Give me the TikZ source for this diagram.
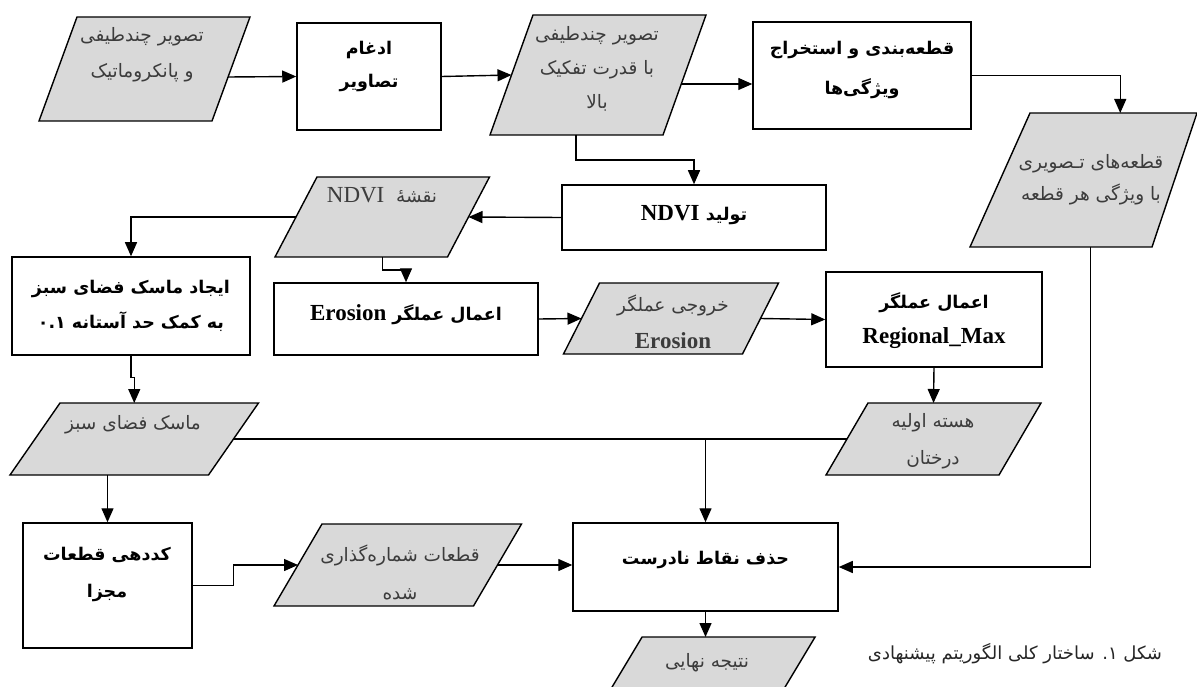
\documentclass[tikz,border=0pt]{standalone}
\usepackage{fontspec}
\usetikzlibrary{arrows.meta,backgrounds,calc}
\TeXXeTstate=1
\newfontfamily\fa[Script=Arabic]{DejaVu Sans}
\newfontfamily\lat{Liberation Serif}
\definecolor{pfill}{RGB}{217,217,217}
\definecolor{ptxt}{RGB}{60,60,60}
\newcommand\RL[1]{\beginR #1\endR}
\newcommand\latb[1]{{\lat\bfseries\fontsize{23}{24}\selectfont #1}}
\newcommand\pgram[7]{%
  \node[pshape, minimum width=#4, minimum height=#5] (#1) at (#2,#3) {};
  \begin{scope}[on background layer]
    \draw[para] ([xshift=#6]#1.north west) -- ([xshift=#7]#1.north east)
      -- ([xshift=-#7]#1.south east) -- ([xshift=-#6]#1.south west) -- cycle;
  \end{scope}}
\tikzset{
  box/.style={draw, line width=1.5pt, fill=white, inner sep=0pt},
  pshape/.style={inner sep=0pt, outer sep=0pt},
  para/.style={draw, line width=1.4pt, fill=pfill},
  ptext/.style={font=\fa\fontsize{18.5}{#1}\selectfont, text=ptxt, align=center, inner sep=0pt},
  ptext/.default=36,
  btext/.style={font=\fa\bfseries\fontsize{17.5}{#1}\selectfont, align=center, inner sep=0pt},
  btext/.default=35,
  arr/.style={line width=1.4pt, -{Triangle[length=14pt,width=12pt]}},
  con/.style={line width=1.4pt},
}
\begin{document}
\begin{tikzpicture}[x=1pt,y=-1pt]
\useasboundingbox (0,0) rectangle (1197,687);
\begin{scope}[on background layer]
  \fill[white] (0,0) rectangle (1197,687);
\end{scope}

% parallelograms: name, cx, cy, w, h, slant-left, slant-right
\pgram{p1}{144.5}{69}{173}{104}{19}{19}
\pgram{p2}{598}{75}{173}{120}{21.5}{21.5}
\pgram{p3}{1087.25}{180}{174.5}{134}{30}{22.5}
\pgram{p4}{382.25}{217}{172.5}{80}{21}{21}
\pgram{p7}{671}{318.5}{179}{71}{18}{18}
\pgram{p5}{134.25}{439}{198.5}{72}{25}{25}
\pgram{p6}{933.5}{439}{173}{72}{21}{21}
\pgram{p8}{397.75}{565}{199.5}{82}{24}{24}
\pgram{p9}{707}{673}{173}{72}{21.6}{21.6}

% boxes
\node[box, minimum width=144, minimum height=107] (b1) at (369,76.5) {};
\node[box, minimum width=218, minimum height=107] (b2) at (862,75.5) {};
\node[box, minimum width=264, minimum height=65] (b3) at (694,217.5) {};
\node[box, minimum width=238, minimum height=98] (b4) at (131,306) {};
\node[box, minimum width=264, minimum height=72] (b7) at (406,319) {};
\node[box, minimum width=216, minimum height=95] (b6) at (934,319.5) {};
\node[box, minimum width=169, minimum height=125] (b5) at (107.5,585.5) {};
\node[box, minimum width=265, minimum height=88] (b8) at (705.5,567) {};

% texts in parallelograms
\node[ptext=36] (p1t) at (142,55) {\RL{تصویر چندطیفی}\\ \RL{و  پانکروماتیک}};
\node[ptext=34] (p2t) at (597,69) {\RL{تصویر چندطیفی}\\ \RL{با قدرت تفکیک}\\ \RL{بالا}};
\node[ptext=32] (p3t) at (1091,180) {\RL{قطعه‌های تـصویری}\\ \RL{با ویژگی هر قطعه}};
\node[ptext] (p4t) at (382,195) {{\lat\fontsize{23}{24}\selectfont NDVI}\ \ \RL{نقشهٔ}};
\node[ptext=37] (p7t) at (673,321.5) {\RL{خروجی عملگر}\\ \latb{Erosion}};
\node[ptext] (p5t) at (133,425) {\RL{ماسک فضای سبز}};
\node[ptext=37] (p6t) at (933,441.5) {\RL{هسته اولیه}\\ \RL{درختان}};
\node[ptext=38] (p8t) at (400,572) {\RL{قطعات شماره‌گذاری}\\ \RL{شده}};
\node[ptext] (p9t) at (707,663) {\RL{نتیجه نهایی}};

% texts in boxes
\node[btext=33] (b1t) at (369,66.5) {\RL{ادغام}\\ \RL{تصاویر}};
\node[btext=40] (b2t) at (862,70) {\RL{قطعه‌بندی و استخراج}\\ \RL{ویژگی‌ها}};
\node[btext] (b3t) at (694,215) {\latb{NDVI} \RL{تولید}};
\node[btext=35] (b4t) at (131,305.5) {\RL{ایجاد ماسک فضای سبز}\\ \RL{به کمک حد آستانه \beginL۰.۱\endL}};
\node[btext] (b7t) at (406,315) {\latb{Erosion} \RL{اعمال عملگر}};
\node[btext=35] (b6t) at (934,320.5) {\RL{اعمال عملگر}\\ \latb{Regional\_Max}};
\node[btext=37] (b5t) at (107,574.5) {\RL{کددهی قطعات}\\ \RL{مجزا}};
\node[btext] (b8t) at (705.5,560) {\RL{حذف نقاط نادرست}};

% caption
\node[font=\fa\fontsize{18}{20}\selectfont, text=black!85, inner sep=0pt] (cap) at (1015,654) {\RL{شکل ۱. ساختار کلی الگوریتم پیشنهادی}};

% connectors
\draw[arr] ([shift={(-3,8)}]p1.east) -- (b1.west);
\draw[arr] (b1.east) -- (p2.west);
\draw[arr] ([shift={(-3,9)}]p2.east) -- ([shift={(0,8.5)}]b2.west);
\draw[arr] (b2.east) -| ([xshift=33]p3.north);
\draw[arr] ([xshift=3]p3.south) |- (b8.east);
\draw[arr] ([xshift=-22]p2.south) -- ++(0,25) -| (b3.north);
\draw[arr] (b3.west) -- (p4.east);
\draw[arr] (p4.west) -| (b4.north);
\draw[arr] (p4.south) -- ++(0,13) -| (b7.north);
\draw[arr] (b7.east) -- (p7.west);
\draw[arr] (p7.east) -- (b6.west);
\draw[arr] (b6.south) -- (p6.north);
\draw[arr] (b4.south) -- ++(0,22) -| (p5.north);
\draw[con] (p5.east) -- (p6.west);
\coordinate (j) at (b8.north |- p5.east);
\draw[arr] (j) -- (b8.north);
\draw[arr] (p5.south -| b5.north) -- (b5.north);
\draw[arr] (b5.east) -- ++(41,0) |- (p8.west);
\draw[arr] (p8.east) -- (p8.east -| b8.west);
\draw[arr] (b8.south) -- (b8.south |- p9.north);
\end{tikzpicture}
\end{document}
